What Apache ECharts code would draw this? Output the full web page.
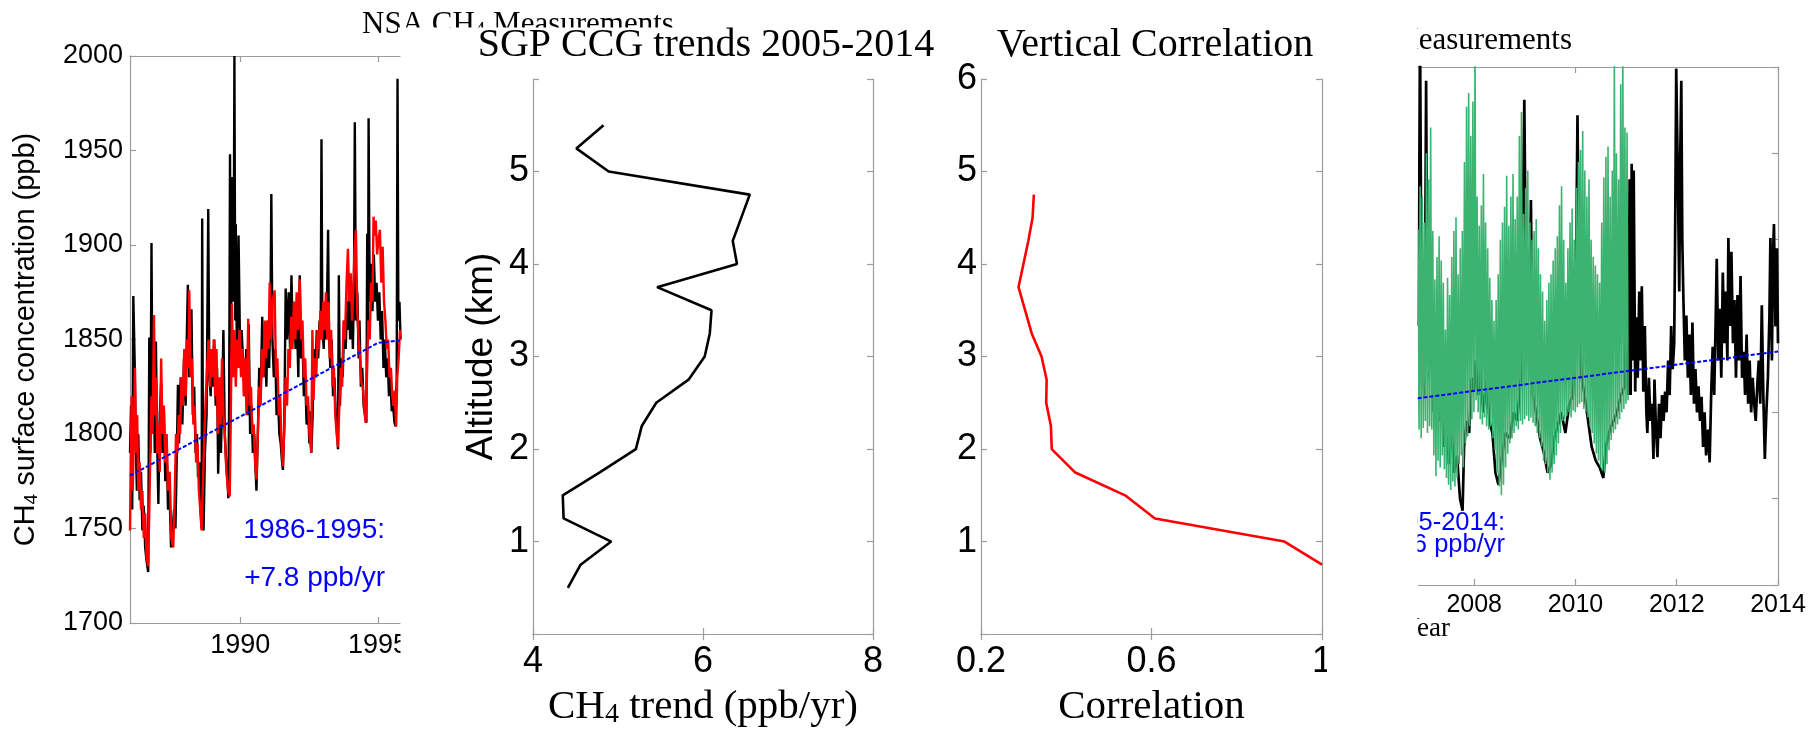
<!DOCTYPE html>
<html><head><meta charset="utf-8">
<script src="https://cdn.jsdelivr.net/npm/echarts@6/dist/echarts.min.js"></script>
<style>html,body{margin:0;padding:0;background:#fff;}#c{width:1810px;height:734px;}</style>
</head><body><div id="c"></div>
<script>
// ---------- Panel 1: NSA CH4 surface measurements (year, ppb) ----------
const nsaBlack = [[1986.00,1790],[1986.04,1815],[1986.08,1760],[1986.12,1873],[1986.17,1838],[1986.21,1795],[1986.25,1770],[1986.30,1800],[1986.35,1765],[1986.40,1780],[1986.45,1749],[1986.50,1762],[1986.55,1740],[1986.60,1733],[1986.66,1727],[1986.70,1851],[1986.74,1790],[1986.78,1901],[1986.82,1800],[1986.86,1830],[1986.90,1790],[1986.94,1849],[1986.98,1800],
[1987.03,1763],[1987.08,1810],[1987.13,1827],[1987.18,1790],[1987.23,1812],[1987.28,1775],[1987.33,1795],[1987.38,1760],[1987.43,1772],[1987.49,1740],[1987.55,1739],[1987.60,1760],[1987.65,1750],[1987.70,1790],[1987.74,1826],[1987.78,1795],[1987.84,1830],[1987.90,1805],[1987.96,1840],
[1988.02,1815],[1988.06,1850],[1988.10,1879],[1988.15,1830],[1988.20,1845],[1988.23,1866],[1988.28,1810],[1988.33,1825],[1988.38,1790],[1988.43,1800],[1988.47,1777],[1988.52,1785],[1988.56,1760],[1988.60,1750],[1988.62,1914],[1988.65,1780],[1988.67,1749],[1988.72,1790],[1988.78,1810],[1988.84,1919],[1988.88,1830],[1988.93,1820],[1988.96,1845],
[1989.01,1825],[1989.06,1850],[1989.11,1815],[1989.16,1835],[1989.20,1779],[1989.25,1810],[1989.30,1790],[1989.35,1820],[1989.39,1855],[1989.44,1800],[1989.49,1785],[1989.54,1775],[1989.57,1766],[1989.60,1820],[1989.63,1948],[1989.66,1840],[1989.69,1890],[1989.72,1936],[1989.76,1870],[1989.79,2000],[1989.82,1860],[1989.84,1911],[1989.88,1840],[1989.91,1870],[1989.94,1905],
[1990.00,1840],[1990.05,1855],[1990.12,1855],[1990.17,1820],[1990.22,1845],[1990.27,1810],[1990.31,1858],[1990.36,1800],[1990.41,1815],[1990.46,1790],[1990.51,1800],[1990.56,1780],[1990.59,1770],[1990.64,1800],[1990.69,1835],[1990.74,1820],[1990.80,1862],[1990.85,1830],[1990.90,1850],[1990.95,1825],
[1991.00,1860],[1991.05,1835],[1991.10,1870],[1991.13,1927],[1991.17,1850],[1991.22,1830],[1991.27,1845],[1991.32,1810],[1991.37,1820],[1991.42,1800],[1991.47,1795],[1991.52,1785],[1991.55,1781],[1991.60,1804],[1991.65,1877],[1991.70,1850],[1991.76,1875],[1991.81,1845],[1991.86,1884],[1991.91,1850],[1991.96,1870],
[1992.01,1845],[1992.06,1860],[1992.11,1830],[1992.16,1884],[1992.21,1840],[1992.26,1850],[1992.31,1820],[1992.36,1830],[1992.41,1805],[1992.46,1815],[1992.51,1795],[1992.55,1812],[1992.58,1790],[1992.63,1810],[1992.68,1845],[1992.73,1830],[1992.78,1855],[1992.83,1840],[1992.88,1860],[1992.92,1850],[1992.95,1956],[1992.98,1860],
[1993.03,1845],[1993.08,1870],[1993.13,1850],[1993.19,1908],[1993.22,1855],[1993.27,1835],[1993.32,1850],[1993.37,1820],[1993.42,1830],[1993.47,1810],[1993.52,1800],[1993.55,1792],[1993.58,1884],[1993.62,1815],[1993.67,1840],[1993.72,1830],[1993.78,1860],[1993.83,1845],[1993.88,1870],[1993.92,1855],[1993.95,1882],[1993.99,1850],
[1994.04,1870],[1994.09,1845],[1994.13,1880],[1994.16,1965],[1994.20,1860],[1994.25,1875],[1994.30,1840],[1994.33,1860],[1994.38,1825],[1994.43,1835],[1994.48,1815],[1994.53,1810],[1994.58,1806],[1994.61,1906],[1994.64,1850],[1994.66,1967],[1994.70,1870],[1994.75,1890],[1994.80,1865],[1994.85,1895],[1994.90,1870],[1994.95,1880],
[1995.00,1860],[1995.05,1875],[1995.10,1850],[1995.15,1865],[1995.20,1835],[1995.25,1850],[1995.30,1830],[1995.35,1840],[1995.40,1820],[1995.45,1830],[1995.50,1812],[1995.55,1815],[1995.60,1806],[1995.64,1804],[1995.68,1830],[1995.71,1988],[1995.74,1860],[1995.78,1870],[1995.82,1850]];

const nsaRed = [[1986.00,1749],[1986.03,1790],[1986.06,1820],[1986.10,1770],[1986.14,1800],[1986.18,1835],[1986.22,1790],[1986.26,1810],[1986.30,1770],[1986.35,1785],[1986.40,1760],[1986.45,1770],[1986.50,1745],[1986.55,1758],[1986.60,1735],[1986.66,1730],[1986.70,1760],[1986.74,1791],[1986.78,1820],[1986.82,1800],[1986.87,1863],[1986.91,1810],[1986.95,1830],[1986.99,1790],
[1987.03,1805],[1987.08,1780],[1987.13,1840],[1987.18,1800],[1987.23,1815],[1987.28,1785],[1987.33,1800],[1987.38,1770],[1987.44,1780],[1987.50,1745],[1987.57,1740],[1987.62,1765],[1987.67,1800],[1987.72,1790],[1987.77,1810],[1987.82,1800],[1987.87,1830],[1987.92,1815],[1987.97,1845],
[1988.02,1820],[1988.07,1850],[1988.12,1835],[1988.15,1876],[1988.20,1830],[1988.25,1840],[1988.30,1805],[1988.35,1815],[1988.40,1785],[1988.45,1795],[1988.50,1770],[1988.55,1760],[1988.60,1749],[1988.65,1775],[1988.70,1800],[1988.75,1820],[1988.80,1835],[1988.85,1850],[1988.90,1825],[1988.95,1845],
[1989.00,1830],[1989.04,1850],[1989.09,1820],[1989.14,1845],[1989.19,1800],[1989.24,1830],[1989.29,1805],[1989.34,1840],[1989.39,1810],[1989.44,1800],[1989.50,1780],[1989.56,1770],[1989.62,1767],[1989.66,1810],[1989.70,1869],[1989.74,1830],[1989.79,1855],[1989.84,1825],[1989.89,1850],[1989.94,1835],[1989.98,1855],
[1990.03,1830],[1990.08,1845],[1990.13,1820],[1990.18,1840],[1990.23,1810],[1990.29,1861],[1990.34,1815],[1990.39,1825],[1990.44,1800],[1990.49,1805],[1990.54,1785],[1990.59,1776],[1990.64,1800],[1990.69,1825],[1990.74,1815],[1990.79,1845],[1990.84,1830],[1990.89,1860],[1990.94,1840],[1990.99,1860],
[1991.03,1845],[1991.07,1880],[1991.12,1850],[1991.17,1870],[1991.25,1876],[1991.30,1830],[1991.35,1840],[1991.40,1810],[1991.45,1820],[1991.50,1795],[1991.55,1783],[1991.60,1803],[1991.65,1830],[1991.70,1815],[1991.75,1845],[1991.80,1835],[1991.85,1862],[1991.90,1845],[1991.95,1870],[1992.00,1850],
[1992.05,1875],[1992.10,1855],[1992.16,1882],[1992.21,1850],[1992.26,1860],[1992.31,1830],[1992.36,1840],[1992.41,1815],[1992.46,1820],[1992.51,1800],[1992.58,1790],[1992.62,1855],[1992.66,1818],[1992.71,1840],[1992.76,1830],[1992.81,1855],[1992.86,1845],[1992.91,1865],[1992.96,1850],
[1993.01,1870],[1993.06,1855],[1993.11,1875],[1993.16,1850],[1993.21,1870],[1993.25,1840],[1993.30,1855],[1993.35,1825],[1993.40,1835],[1993.45,1810],[1993.50,1800],[1993.55,1793],[1993.60,1816],[1993.65,1835],[1993.70,1825],[1993.75,1860],[1993.80,1850],[1993.86,1880],[1993.91,1898],[1993.96,1870],
[1994.01,1885],[1994.06,1860],[1994.10,1874],[1994.15,1898],[1994.20,1908],[1994.25,1865],[1994.30,1850],[1994.35,1840],[1994.40,1827],[1994.45,1825],[1994.50,1815],[1994.55,1806],[1994.60,1830],[1994.65,1860],[1994.70,1850],[1994.75,1880],[1994.80,1870],[1994.84,1915],[1994.87,1905],[1994.92,1913],[1994.97,1895],
[1995.02,1903],[1995.07,1908],[1995.12,1880],[1995.17,1899],[1995.22,1870],[1995.27,1860],[1995.32,1845],[1995.37,1850],[1995.42,1830],[1995.47,1835],[1995.52,1820],[1995.57,1815],[1995.61,1823],[1995.66,1804],[1995.70,1830],[1995.75,1840],[1995.80,1855]];

const nsaTrend = [[1986.0,1778],[1995.0,1848.2],[1995.8,1849.5]];
const nsaTicks = [1990, 1995];

// ---------- Panel 2: SGP CCG trends vs altitude ----------
const trendAlt = [0.5,0.75,1.0,1.25,1.5,1.75,2.0,2.25,2.5,2.75,3.0,3.25,3.5,3.75,4.0,4.25,4.75,5.0,5.25,5.5];
const trendVal = [4.41,4.56,4.92,4.36,4.35,4.79,5.21,5.28,5.45,5.83,6.02,6.08,6.10,5.46,6.40,6.35,6.55,4.89,4.51,4.83];

// ---------- Panel 3: Vertical correlation ----------
const corrAlt = [0.75,1.0,1.25,1.5,1.75,2.0,2.25,2.5,2.75,3.0,3.25,3.75,4.25,4.5,4.75];
const corrVal = [1.0,0.912,0.608,0.538,0.42,0.366,0.364,0.353,0.354,0.342,0.319,0.288,0.311,0.321,0.324];

// ---------- Panel 4: SGP surface time series ----------
const sgpBlack = [[2006.89,1900],[2006.91,1950],[2006.93,2075],[2006.95,1960],[2006.98,1880],[2007.02,1860],[2007.05,2042],[2007.07,1930],[2007.10,1870],[2007.15,1900],[2007.20,1850],[2007.25,1880],[2007.30,1845],[2007.35,1870],[2007.40,1830],[2007.45,1860],[2007.50,1820],[2007.55,1845],[2007.60,1815],[2007.66,1825],[2007.72,1800],[2007.77,1793],[2007.80,1830],[2007.85,1845],[2007.90,1838],[2007.95,1870],[2008.00,1863],[2008.03,1880],[2008.08,1860],[2008.12,1875],[2008.18,1850],[2008.25,1870],[2008.30,1845],[2008.36,1838],[2008.42,1815],[2008.48,1808],[2008.55,1825],[2008.62,1838],[2008.70,1835],[2008.78,1850],[2008.85,1845],[2008.92,1870],[2008.99,2031],[2009.03,1900],[2009.08,1880],[2009.12,1973],[2009.16,1860],[2009.22,1850],[2009.30,1835],[2009.38,1826],[2009.45,1815],[2009.52,1820],[2009.58,1835],[2009.65,1842],[2009.72,1850],[2009.80,1838],[2009.88,1855],[2009.95,1860],[2010.00,1900],[2010.04,2022],[2010.07,1930],[2010.12,1870],[2010.18,1860],[2010.25,1845],[2010.32,1830],[2010.40,1822],[2010.48,1818],[2010.55,1812],[2010.60,1830],[2010.68,1840],[2010.75,1845],[2010.82,1850],[2010.90,1860],[2010.97,1865],
[2011.02,1950],[2011.04,1860],[2011.07,1985],[2011.09,1860],[2011.11,1994],[2011.13,1880],[2011.15,1990],[2011.18,1862],[2011.20,1905],[2011.23,1870],[2011.26,1920],[2011.28,1880],[2011.31,1923],[2011.34,1862],[2011.37,1900],[2011.40,1850],[2011.42,1838],[2011.45,1870],[2011.48,1845],[2011.51,1855],[2011.54,1823],[2011.56,1869],[2011.59,1840],[2011.62,1824],[2011.65,1855],[2011.68,1835],[2011.71,1860],[2011.74,1845],[2011.77,1862],[2011.80,1850],[2011.83,1880],[2011.86,1860],[2011.89,1900],[2011.92,1875],[2011.95,1890],[2011.97,1960],[2011.99,2049],[2012.02,1990],[2012.05,1920],[2012.07,2000],[2012.09,2042],[2012.11,1950],[2012.13,1918],[2012.16,1880],[2012.19,1906],[2012.22,1870],[2012.25,1895],[2012.28,1860],[2012.31,1902],[2012.34,1855],[2012.37,1875],[2012.40,1850],[2012.43,1865],[2012.46,1845],[2012.49,1859],[2012.52,1830],[2012.55,1850],[2012.58,1825],[2012.62,1840],[2012.65,1821],[2012.68,1860],[2012.71,1888],[2012.74,1860],[2012.77,1905],[2012.79,1939],[2012.82,1880],[2012.85,1910],[2012.88,1870],[2012.91,1931],[2012.94,1890],[2012.97,1920],[2013.00,1880],[2013.02,1951],[2013.05,1900],[2013.08,1943],[2013.11,1890],[2013.14,1915],[2013.17,1870],[2013.20,1918],[2013.23,1880],[2013.26,1929],[2013.29,1870],[2013.32,1885],[2013.35,1860],[2013.38,1895],[2013.41,1855],[2013.44,1880],[2013.47,1850],[2013.50,1870],[2013.53,1855],[2013.56,1845],[2013.59,1865],[2013.62,1880],[2013.65,1855],[2013.68,1912],[2013.71,1860],[2013.74,1823],[2013.77,1850],[2013.80,1870],[2013.83,1905],[2013.85,1951],[2013.88,1880],[2013.90,1940],[2013.92,1959],[2013.95,1900],[2013.98,1945],[2014.00,1890]];

const greenStart = 2006.89, greenStep = 0.0417;
const greenHigh = [1956,1981,1975,1960,2000,1985,2015,1955,1927,1940,1952,1938,1925,1898,1928,1918,1940,1955,1963,1930,1945,1955,1995,2027,2035,2010,2030,2060,1975,1958,1970,1988,1960,1945,1928,1915,1903,1915,1930,1950,1960,1969,1987,1958,1975,1988,1962,1975,2010,2024,1965,1980,1990,1960,1950,1955,1962,1945,1930,1920,1903,1915,1925,1930,1938,1945,1952,1970,1981,1950,1925,1945,1960,1968,1950,1980,1995,2002,2013,1990,1975,1985,1950,1940,1935,1930,1925,1960,1986,1998,2004,1975,1990,2060,2000,1985,2040,2060,2015,2012];
const greenLow = [1840,1835,1841,1845,1838,1842,1840,1825,1813,1822,1818,1825,1817,1812,1808,1805,1810,1807,1812,1820,1825,1818,1832,1836,1842,1846,1850,1857,1850,1846,1843,1847,1842,1840,1842,1835,1828,1815,1807,1802,1808,1818,1826,1832,1835,1838,1842,1840,1845,1843,1846,1848,1845,1847,1844,1842,1838,1835,1830,1822,1820,1815,1811,1815,1820,1825,1832,1838,1845,1846,1848,1850,1847,1851,1850,1853,1855,1856,1852,1850,1847,1842,1838,1832,1826,1822,1818,1816,1815,1820,1828,1834,1838,1840,1843,1846,1850,1852,1855,1857];
const sgpTrend = [[2005.0,1851],[2014.0,1885.2]];
const sgpTicks = [2008, 2010, 2012, 2014];

// build green alternating series from the read envelopes
const greenData = [];
greenHigh.forEach((h, i) => {
  greenData.push([greenStart + i * greenStep, h]);
  greenData.push([greenStart + (i + 0.5) * greenStep, greenLow[i]]);
});

const AX = '#9c9c9c';
const SANS = '"Liberation Sans", Arial, Helvetica, sans-serif';
const SERIF = '"Liberation Serif", "Times New Roman", serif';
const axLine = {show: true, lineStyle: {color: AX, width: 1.2}};
const tickIn = (extra) => Object.assign({show: true, inside: true, length: 6, lineStyle: {color: AX, width: 1.2}}, extra || {});
const plain = v => String(v);

const chart = echarts.init(document.getElementById('c'), null, {renderer: 'canvas'});
const option = {
  animation: false,
  backgroundColor: '#fff',
  grid: [
    {left: 130, top: 56, width: 270, height: 567},
    {left: 533, top: 79, width: 340, height: 573},
    {left: 981, top: 79, width: 341, height: 573},
    {left: 1418, top: 67, width: 360, height: 518}
  ],
  xAxis: [
    {gridIndex: 0, type: 'value', min: 1986, max: 1995.8, axisLine: axLine, splitLine: {show: false},
     axisTick: tickIn({customValues: nsaTicks}),
     axisLabel: {customValues: nsaTicks, formatter: plain, fontSize: 27, lineHeight: 27, fontFamily: SANS, color: '#000', margin: 9}},
    {gridIndex: 0, type: 'value', position: 'top', min: 1986, max: 1995.8, axisLine: axLine, splitLine: {show: false},
     axisTick: tickIn({customValues: nsaTicks}), axisLabel: {show: false}},
    {gridIndex: 1, type: 'value', min: 4, max: 8, interval: 2, axisLine: axLine, splitLine: {show: false},
     axisTick: tickIn(), axisLabel: {fontSize: 36, lineHeight: 36, fontFamily: SANS, color: '#000', margin: 10},
     name: 'CH{s|4} trend (ppb/yr)', nameLocation: 'middle', nameGap: 40,
     nameTextStyle: {fontSize: 41, lineHeight: 44, fontFamily: SERIF, color: '#000',
       rich: {s: {fontSize: 28, lineHeight: 26, verticalAlign: 'bottom', fontFamily: SERIF, color: '#000'}}}},
    {gridIndex: 1, type: 'value', position: 'top', min: 4, max: 8, interval: 2, axisLine: axLine, splitLine: {show: false},
     axisTick: tickIn(), axisLabel: {show: false}},
    {gridIndex: 2, type: 'value', min: 0.2, max: 1, interval: 0.4, axisLine: axLine, splitLine: {show: false},
     axisTick: tickIn(), axisLabel: {fontSize: 36, lineHeight: 36, fontFamily: SANS, color: '#000', margin: 10},
     name: 'Correlation', nameLocation: 'middle', nameGap: 40,
     nameTextStyle: {fontSize: 41, lineHeight: 44, fontFamily: SERIF, color: '#000'}},
    {gridIndex: 2, type: 'value', position: 'top', min: 0.2, max: 1, interval: 0.4, axisLine: axLine, splitLine: {show: false},
     axisTick: tickIn(), axisLabel: {show: false}},
    {gridIndex: 3, type: 'value', min: 2006.89, max: 2014, axisLine: axLine, splitLine: {show: false},
     axisTick: tickIn({customValues: sgpTicks}),
     axisLabel: {customValues: sgpTicks, formatter: plain, fontSize: 25, lineHeight: 25, fontFamily: SANS, color: '#000', margin: 8}},
    {gridIndex: 3, type: 'value', position: 'top', min: 2006.89, max: 2014, axisLine: axLine, splitLine: {show: false},
     axisTick: tickIn({customValues: sgpTicks}), axisLabel: {show: false}}
  ],
  yAxis: [
    {gridIndex: 0, type: 'value', min: 1700, max: 2000, interval: 50, axisLine: axLine, splitLine: {show: false},
     axisTick: tickIn(), axisLabel: {formatter: plain, fontSize: 27, fontFamily: SANS, color: '#000', margin: 7},
     name: 'CH{s|4} surface concentration (ppb)', nameLocation: 'middle', nameGap: 89,
     nameTextStyle: {fontSize: 29, lineHeight: 30, fontFamily: SANS, color: '#000',
       rich: {s: {fontSize: 19, lineHeight: 18, verticalAlign: 'bottom', fontFamily: SANS, color: '#000'}}}},
    {gridIndex: 1, type: 'value', min: 0, max: 6, interval: 1, axisLine: axLine, splitLine: {show: false},
     axisTick: tickIn(), axisLabel: {fontSize: 36, fontFamily: SANS, color: '#000', margin: 4,
       formatter: v => (v === 0 || v === 6) ? '' : String(v)},
     name: 'Altitude (km)', nameLocation: 'middle', nameGap: 33,
     nameTextStyle: {fontSize: 37, fontFamily: SANS, color: '#000'}},
    {gridIndex: 1, type: 'value', position: 'right', min: 0, max: 6, interval: 1, axisLine: axLine, splitLine: {show: false},
     axisTick: tickIn(), axisLabel: {show: false}},
    {gridIndex: 2, type: 'value', min: 0, max: 6, interval: 1, axisLine: axLine, splitLine: {show: false},
     axisTick: tickIn(), axisLabel: {fontSize: 36, fontFamily: SANS, color: '#000', margin: 4,
       formatter: v => v === 0 ? '' : String(v)}},
    {gridIndex: 2, type: 'value', position: 'right', min: 0, max: 6, interval: 1, axisLine: axLine, splitLine: {show: false},
     axisTick: tickIn(), axisLabel: {show: false}},
    {gridIndex: 3, type: 'value', position: 'right', min: 1750, max: 2050, interval: 50, axisLine: axLine, splitLine: {show: false},
     axisTick: tickIn(), axisLabel: {show: false}}
  ],
  series: [
    {type: 'line', xAxisIndex: 0, yAxisIndex: 0, data: nsaBlack, showSymbol: false, symbol: 'none', lineStyle: {color: '#000', width: 2.4}, z: 2},
    {type: 'line', xAxisIndex: 0, yAxisIndex: 0, data: nsaRed, showSymbol: false, symbol: 'none', lineStyle: {color: '#ff0000', width: 2.4}, z: 3},
    {type: 'line', xAxisIndex: 0, yAxisIndex: 0, data: nsaTrend, showSymbol: false, symbol: 'none', lineStyle: {color: '#0000ff', width: 2, type: [4, 2]}, z: 4},
    {type: 'line', xAxisIndex: 2, yAxisIndex: 1, data: trendAlt.map((a, i) => [trendVal[i], a]), showSymbol: false, symbol: 'none', lineStyle: {color: '#000', width: 2.6}},
    {type: 'line', xAxisIndex: 4, yAxisIndex: 3, data: corrAlt.map((a, i) => [corrVal[i], a]), showSymbol: false, symbol: 'none', lineStyle: {color: '#ff0000', width: 2.6}},
    {type: 'line', xAxisIndex: 6, yAxisIndex: 5, data: sgpBlack, showSymbol: false, symbol: 'none', lineStyle: {color: '#000', width: 2.7}, z: 2},
    {type: 'line', xAxisIndex: 6, yAxisIndex: 5, data: greenData, showSymbol: false, symbol: 'none', lineStyle: {color: '#3cb371', width: 1.6}, z: 3},
    {type: 'line', xAxisIndex: 6, yAxisIndex: 5, data: sgpTrend, showSymbol: false, symbol: 'none', lineStyle: {color: '#0000ff', width: 2, type: [4, 2]}, z: 4}
  ],
  graphic: {elements: [
    {type: 'text', z: 40, x: 362, y: 25, style: {text: 'NSA CH{s|4} Measurements', fontSize: 31, fontFamily: SERIF, fill: '#000',
      align: 'left', textAlign: 'left', verticalAlign: 'middle', textVerticalAlign: 'middle',
      rich: {s: {fontSize: 21, fontFamily: SERIF, fill: '#000', verticalAlign: 'bottom', lineHeight: 20}}}},
    {type: 'rect', z: 50, shape: {x: 398, y: 27.5, width: 330, height: 14}, style: {fill: '#fff'}},
    {type: 'rect', z: 50, shape: {x: 400.5, y: 628, width: 45, height: 45}, style: {fill: '#fff'}},
    {type: 'text', z: 60, x: 706, y: 45, style: {text: 'SGP CCG trends 2005-2014', fontSize: 40, fontFamily: SERIF, fill: '#000',
      align: 'center', textAlign: 'center', verticalAlign: 'middle', textVerticalAlign: 'middle'}},
    {type: 'text', z: 60, x: 1155, y: 45, style: {text: 'Vertical Correlation', fontSize: 40, fontFamily: SERIF, fill: '#000',
      align: 'center', textAlign: 'center', verticalAlign: 'middle', textVerticalAlign: 'middle'}},
    {type: 'text', z: 60, x: 385, y: 530, style: {text: '1986-1995:', fontSize: 28, fontFamily: SANS, fill: '#0000ff',
      align: 'right', textAlign: 'right', verticalAlign: 'middle', textVerticalAlign: 'middle'}},
    {type: 'text', z: 60, x: 385, y: 578, style: {text: '+7.8 ppb/yr', fontSize: 28, fontFamily: SANS, fill: '#0000ff',
      align: 'right', textAlign: 'right', verticalAlign: 'middle', textVerticalAlign: 'middle'}},
    {type: 'text', z: 40, x: 1572, y: 41, style: {text: 'CH{s|4} Measurements', fontSize: 31, fontFamily: SERIF, fill: '#000',
      align: 'right', textAlign: 'right', verticalAlign: 'middle', textVerticalAlign: 'middle',
      rich: {s: {fontSize: 21, fontFamily: SERIF, fill: '#000', verticalAlign: 'bottom', lineHeight: 20}}}},
    {type: 'text', z: 40, x: 1505, y: 523, style: {text: '2005-2014:', fontSize: 25.5, fontFamily: SANS, fill: '#0000ff',
      align: 'right', textAlign: 'right', verticalAlign: 'middle', textVerticalAlign: 'middle'}},
    {type: 'text', z: 40, x: 1505, y: 545, style: {text: '+3.6 ppb/yr', fontSize: 25.5, fontFamily: SANS, fill: '#0000ff',
      align: 'right', textAlign: 'right', verticalAlign: 'middle', textVerticalAlign: 'middle'}},
    {type: 'text', z: 40, x: 1450, y: 629, style: {text: 'Year', fontSize: 27, fontFamily: SERIF, fill: '#000',
      align: 'right', textAlign: 'right', verticalAlign: 'middle', textVerticalAlign: 'middle'}},
    {type: 'rect', z: 50, shape: {x: 1327, y: 0, width: 90.5, height: 734}, style: {fill: '#fff'}}
  ]}
};
chart.setOption(option);
</script></body></html>
